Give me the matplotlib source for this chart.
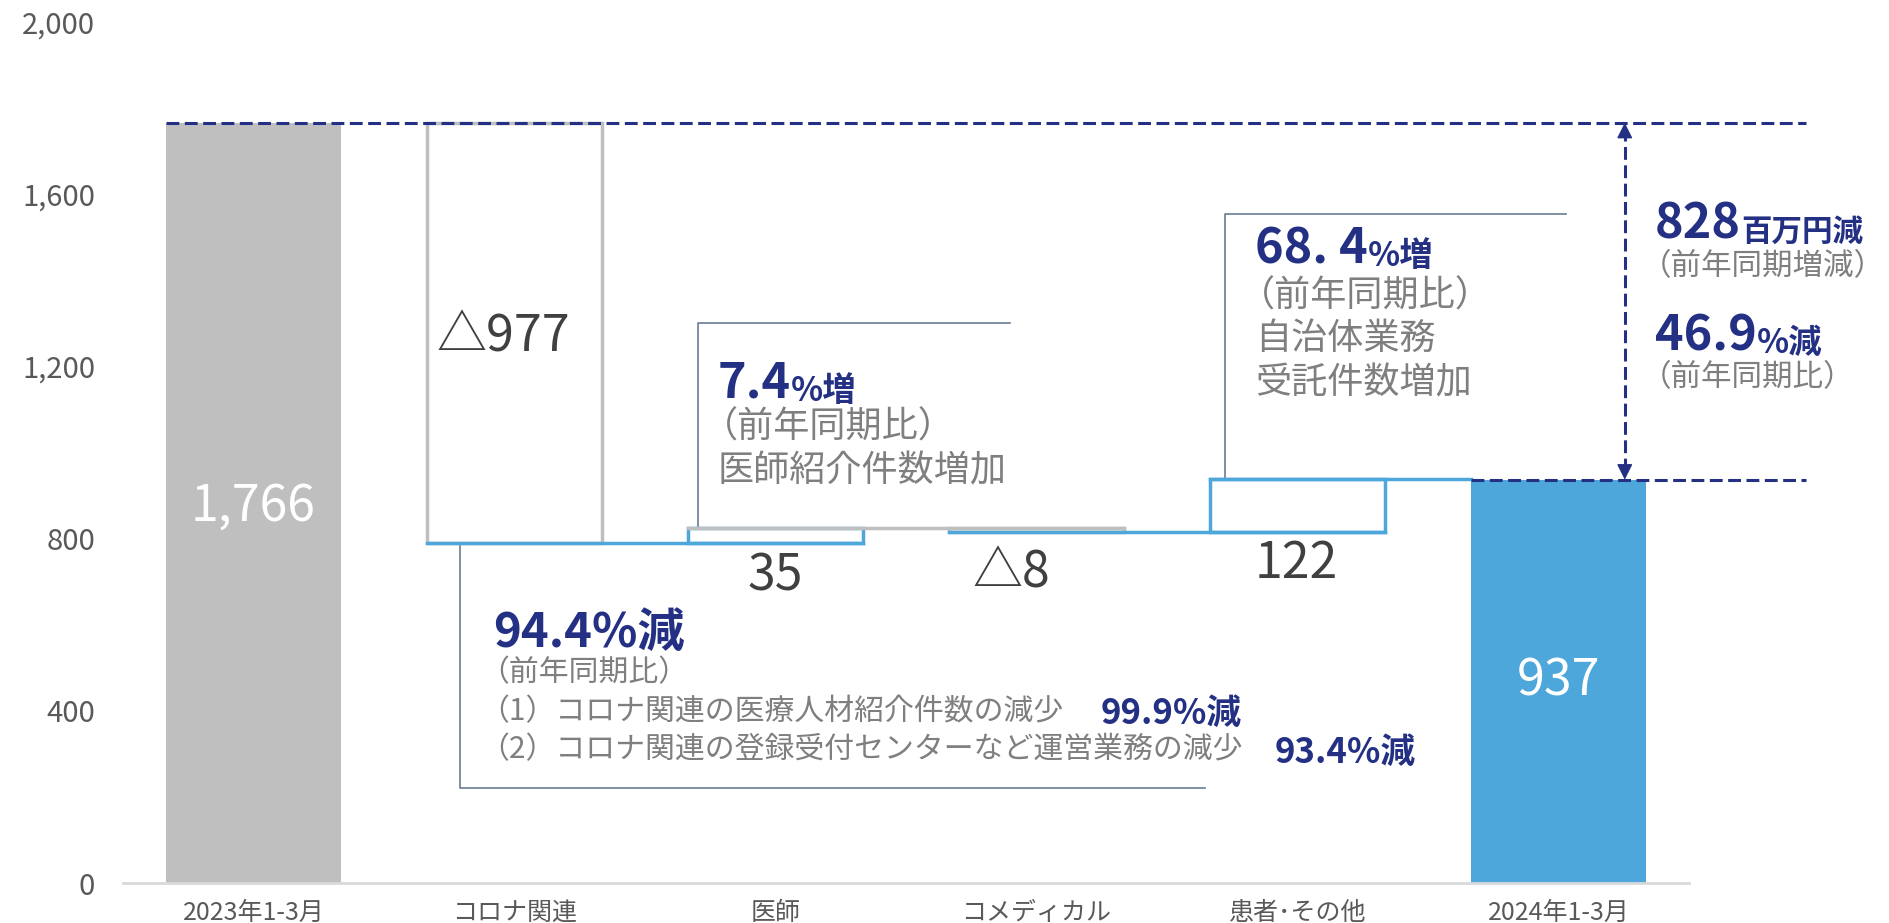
import numpy as np
import matplotlib.pyplot as plt

plt.rcParams['font.family'] = ['Noto Sans CJK JP', 'DejaVu Sans']

# data
categories = ['2023年1-3月', 'コロナ関連', '医師', 'コメディカル', '患者･その他', '2024年1-3月']
start_value = 1766
deltas = [-977, 35, -8, 122]
end_value = 937
start_label = '1,766'
end_label = '937'
delta_labels = ['△977', '35', '△8', '122']
yticks = [0, 400, 800, 1200, 1600, 2000]

GRAY = '#BFBFBF'
BLUE = '#4EA7DA'
NAVY = '#233083'
TXT_GRAY = '#7F7F7F'
DARK = '#404040'
SLATE = '#6B7B95'

fig = plt.figure(figsize=(18.89, 9.23), dpi=100)
ax = fig.add_axes([0.0651, 0.0433, 0.829, 0.9328])
x = np.arange(len(categories))
w = 0.67

# start / end bars
ax.bar(x[0], start_value, w, color=GRAY, zorder=2)
ax.bar(x[-1], end_value, w, color=BLUE, zorder=2)

# floating bars
levels = start_value + np.cumsum([0] + deltas)
for i, d in enumerate(deltas):
    lo = min(levels[i], levels[i + 1])
    ax.bar(x[i + 1], abs(d), w, bottom=lo, facecolor='white',
           edgecolor=GRAY if d < 0 else BLUE, linewidth=2.5, zorder=2)

# connector lines
ax.plot([x[1] - w / 2, x[2] + w / 2], [levels[1]] * 2, color=BLUE, lw=2.5, zorder=3)
ax.plot([x[2] - w / 2, x[3] + w / 2], [levels[2]] * 2, color=GRAY, lw=2.5, zorder=3)
ax.plot([x[3] - w / 2, x[4] + w / 2], [levels[3]] * 2, color=BLUE, lw=2.5, zorder=3)
ax.plot([x[4] - w / 2, x[5] - w / 2], [levels[4]] * 2, color=BLUE, lw=2.5, zorder=3)

# value labels
ax.text(x[0], start_value / 2 - 8, start_label, color='white', fontsize=36,
        ha='center', va='center', zorder=5)
ax.text(x[-1], end_value / 2, end_label, color='white', fontsize=36,
        ha='center', va='center', zorder=5)
label_pos = [(0.959, 1268), (2.0, 711), (2.902, 720), (3.994, 741)]
for (lx, ly), s in zip(label_pos, delta_labels):
    ax.text(lx, ly, s, color=DARK, fontsize=36, ha='center', va='center', zorder=5)

# dashed guide lines + arrow
dash = (0, (4.2, 1.8))
ax.plot([x[0] - w / 2, 5.95], [start_value] * 2, color=NAVY, lw=2.2,
        linestyle=dash, clip_on=False, zorder=4)
ax.plot([x[-1] - w / 2, 5.95], [end_value] * 2, color=NAVY, lw=2.2,
        linestyle=dash, clip_on=False, zorder=4)
ax_x = 5.254
ax.plot([ax_x, ax_x], [end_value + 20, start_value - 20], color=NAVY, lw=2.2,
        linestyle=dash, zorder=4)
for tip, tail in [(start_value, start_value - 25), (end_value, end_value + 25)]:
    ax.annotate('', xy=(ax_x, tip), xytext=(ax_x, tail),
                arrowprops=dict(arrowstyle='-|>', color=NAVY, lw=1,
                                mutation_scale=24, shrinkA=0, shrinkB=0), zorder=5)

# callout lines
ax.plot([1.702, 1.702, 2.898], [levels[2], 1300, 1300], color=SLATE, lw=1.2, zorder=1)
ax.plot([3.721, 3.721, 5.029], [levels[4], 1554, 1554], color=SLATE, lw=1.2, zorder=1)
ax.plot([0.79, 0.79, 3.645], [levels[1], 220, 220], color=SLATE, lw=1.2, zorder=1)


def rich(px, py, parts):
    s, size, color, weight = parts[0]
    t = ax.text(px, py, s, fontsize=size, color=color, fontweight=weight,
                ha='left', va='baseline', zorder=5)
    for s, size, color, weight in parts[1:]:
        t = ax.annotate(s, xy=(1, 0), xycoords=t, fontsize=size, color=color,
                        fontweight=weight, ha='left', va='bottom', zorder=5)
    return t


def gray(px, py, s, size, paren=False):
    dx = -0.45 * size if paren else 0
    ax.annotate(s, (px, py), xytext=(dx, 0), textcoords='offset points',
                fontsize=size, color=TXT_GRAY, ha='left', va='center',
                annotation_clip=False, zorder=5)


# 医師
rich(1.779, 1127, [('7.4', 35, NAVY, 'bold'), ('%増', 24, NAVY, 'bold')])
gray(1.779, 1059, '（前年同期比）', 26, paren=True)
gray(1.779, 957, '医師紹介件数増加', 26)

# 患者・その他
rich(3.836, 1440, [('68. 4', 35, NAVY, 'bold'), ('%増', 24, NAVY, 'bold')])
gray(3.836, 1363, '（前年同期比）', 26, paren=True)
gray(3.836, 1264, '自治体業務', 26)
gray(3.836, 1161, '受託件数増加', 26)

# total change
rich(5.369, 1498, [('828', 35, NAVY, 'bold'), ('百万円減', 22, NAVY, 'bold')])
gray(5.369, 1433, '（前年同期増減）', 22, paren=True)
rich(5.369, 1238, [('46.9', 35, NAVY, 'bold'), ('%減', 24, NAVY, 'bold')])
gray(5.369, 1175, '（前年同期比）', 22, paren=True)

# コロナ関連
rich(0.917, 548, [('94.4%減', 34, NAVY, 'bold')])
gray(0.917, 488, '（前年同期比）', 21.5, paren=True)
gray(0.917, 397, '（1）コロナ関連の医療人材紹介件数の減少', 21.5, paren=True)
gray(0.917, 309, '（2）コロナ関連の登録受付センターなど運営業務の減少', 21.5, paren=True)
rich(3.247, 369, [('99.9%減', 25, NAVY, 'bold')])
rich(3.913, 279, [('93.4%減', 25, NAVY, 'bold')])

# axes styling
ax.set_xlim(-0.5, 5.5)
ax.set_ylim(0, 2000)
ax.set_xticks(x)
ax.set_xticklabels(categories, fontsize=18, color='#595959')
ax.set_yticks(yticks)
ax.set_yticklabels([f'{v:,}' for v in yticks], fontsize=21, color='#595959')
ax.tick_params(length=0)
ax.tick_params(axis='y', pad=20)
ax.tick_params(axis='x', pad=12)
for side in ['top', 'right', 'left']:
    ax.spines[side].set_visible(False)
ax.spines['bottom'].set_color('#D9D9D9')
ax.spines['bottom'].set_linewidth(2)

fig.savefig('out.png', dpi=100)
